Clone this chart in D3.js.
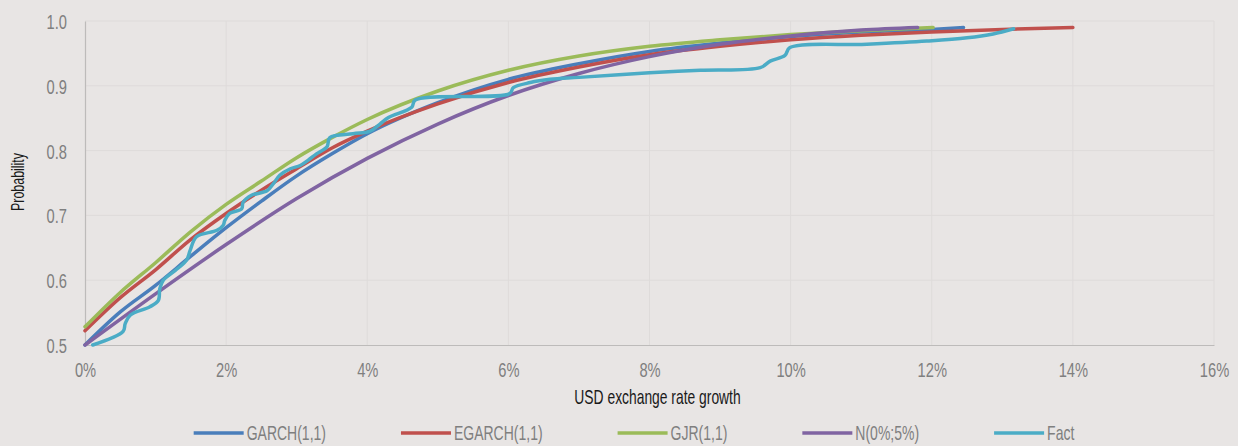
<!DOCTYPE html>
<html><head><meta charset="utf-8">
<script src="https://cdn.jsdelivr.net/npm/d3@7"></script>
<style>
html,body{margin:0;padding:0;background:#E8E5E4;}
svg{display:block;font-family:"Liberation Sans",Arial,sans-serif;}
</style></head><body>
<svg id="c" width="1238" height="446"></svg>
<script>
// ---- data (x = growth in %, y = probability) ----
const seriesNames = ["GARCH(1,1)", "EGARCH(1,1)", "GJR(1,1)", "N(0%;5%)", "Fact"];
const seriesColors = ["#4A7EBB", "#C0504D", "#9BBB59", "#8064A2", "#4BACC6"];
const xTicks = [0, 2, 4, 6, 8, 10, 12, 14, 16];
const yTicks = [0.5, 0.6, 0.7, 0.8, 0.9, 1.0];

const garch = [[0,0.500],[0.5,0.551],[1,0.592],[1.5,0.637],[2,0.681],[2.5,0.722],[3,0.761],[3.5,0.795],[4,0.826],[5,0.874],[6,0.910],[7,0.934],[8,0.953],[9,0.966],[10,0.976],[11,0.983],[12,0.987],[12.45,0.990]];
const egarch = [[0,0.522],[0.5,0.573],[1,0.616],[1.5,0.663],[2,0.703],[2.5,0.739],[3,0.772],[3.5,0.804],[4,0.830],[5,0.872],[6,0.905],[7,0.929],[8,0.948],[9,0.961],[10,0.971],[11,0.978],[12,0.983],[13,0.987],[14,0.990]];
const gjr = [[0,0.528],[0.5,0.581],[1,0.627],[1.5,0.675],[2,0.717],[2.5,0.753],[3,0.789],[3.5,0.820],[4,0.848],[5,0.892],[6,0.924],[7,0.946],[8,0.961],[9,0.971],[10,0.979],[11,0.985],[12.02,0.990]];
const normal = [[0,0.500],[1,0.579],[2,0.655],[3,0.726],[4,0.788],[5,0.841],[6,0.885],[7,0.919],[8,0.945],[9,0.964],[10,0.977],[11,0.986],[11.8,0.990]];
const fact = [[0.11,0.500],[0.54,0.521],[0.57,0.533],[0.64,0.546],[0.92,0.559],[1.04,0.569],[1.06,0.587],[1.11,0.600],[1.28,0.615],[1.44,0.631],[1.49,0.646],[1.58,0.667],[1.87,0.677],[1.96,0.685],[1.98,0.692],[2.05,0.703],[2.22,0.710],[2.24,0.720],[2.36,0.731],[2.58,0.738],[2.67,0.749],[2.76,0.762],[2.91,0.772],[3.05,0.777],[3.16,0.785],[3.28,0.795],[3.43,0.806],[3.47,0.820],[3.80,0.826],[4.04,0.830],[4.18,0.841],[4.30,0.851],[4.63,0.867],[4.68,0.878],[6.02,0.888],[6.07,0.897],[6.31,0.905],[6.59,0.910],[7.0,0.913],[8.0,0.920],[8.72,0.924],[9.57,0.928],[9.71,0.938],[9.92,0.947],[9.99,0.959],[11.08,0.964],[11.93,0.969],[12.50,0.974],[12.87,0.980],[13.16,0.988]];
const allSeries = [garch, egarch, gjr, normal, fact];

// ---- layout ----
const svg = d3.select("#c");
const L = 85, R = 1214, T = 21, B = 345;
const x = d3.scaleLinear().domain([0,16]).range([L,R]);
const y = d3.scaleLinear().domain([0.5,1.0]).range([B,T]);

// condensed-text helper (reference uses a very narrow typeface): horizontal scale about the text's x anchor
function condense(sel, f){
  sel.each(function(){
    const xx = +this.getAttribute("x") || 0;
    const prev = this.getAttribute("transform") || "";
    this.setAttribute("transform", `${prev} translate(${xx},0) scale(${f},1) translate(${-xx},0)`);
    this.__w = this.getComputedTextLength() * f;
  });
}

// gridlines
svg.append("g").selectAll("line").data(yTicks.slice(1)).join("line")
  .attr("x1",L).attr("x2",R).attr("y1",d=>y(d)).attr("y2",d=>y(d))
  .attr("stroke","#DEDBDA").attr("stroke-width",1);
svg.append("g").selectAll("line").data(xTicks.slice(1)).join("line")
  .attr("y1",T).attr("y2",B).attr("x1",d=>x(d)).attr("x2",d=>x(d))
  .attr("stroke","#DEDBDA").attr("stroke-width",1);

// axes
const xAxis = svg.append("g").attr("transform",`translate(0,${B})`)
  .call(d3.axisBottom(x).tickValues(xTicks).tickFormat(d=>d+"%").tickSize(0).tickPadding(17.5));
const yAxis = svg.append("g").attr("transform",`translate(${L},0)`)
  .call(d3.axisLeft(y).tickValues(yTicks).tickFormat(d3.format(".1f")).tickSize(0).tickPadding(18));
[xAxis,yAxis].forEach(a=>{
  a.select(".domain").attr("stroke","#BDBBBA").attr("stroke-width",1.2);
  a.selectAll("text").attr("fill","#7F7F7F").style("font-size","21px")
   .style("font-family",'"Liberation Sans",Arial,sans-serif');
  condense(a.selectAll("text"), 0.7);
});
yAxis.selectAll("text").attr("dy","0.36em");

// axis titles
const xt = svg.append("text").attr("x",(L+R)/2+8).attr("y",404).attr("text-anchor","middle")
  .attr("fill","#1a1a1a").style("font-size","21px").text("USD exchange rate growth");
condense(xt, 0.66);
const yt = svg.append("text").attr("transform","translate(24,182) rotate(-90)").attr("text-anchor","middle")
  .attr("fill","#1a1a1a").style("font-size","18px").text("Probability");
condense(yt, 0.69);

// lines
const line = d3.line().x(d=>x(d[0])).y(d=>y(d[1])).curve(d3.curveMonotoneX);
const factLine = d3.line().x(d=>x(d[0])).y(d=>y(d[1])).curve(d3.curveCatmullRom.alpha(0.5));
svg.append("g").selectAll("path").data(allSeries).join("path")
  .attr("d",(d,i)=> i===4 ? factLine(d) : line(d))
  .attr("fill","none").attr("stroke",(d,i)=>seriesColors[i])
  .attr("stroke-width",3.5).attr("stroke-linejoin","round").attr("stroke-linecap","round");

// legend
const lg = svg.append("g");
const items = lg.selectAll("g").data(seriesNames).join("g");
items.append("line").attr("x1",0).attr("x2",50).attr("y1",0).attr("y2",0)
  .attr("stroke",(d,i)=>seriesColors[i]).attr("stroke-width",3.5);
const lt = items.append("text").attr("x",53).attr("y",0).attr("dy","0.36em")
  .attr("fill","#7F7F7F").style("font-size","20px").text(d=>d);
condense(lt, 0.7);
let cx = 0; const gap = 75;
items.each(function(){
  const w = 53 + d3.select(this).select("text").node().__w;
  d3.select(this).attr("transform",`translate(${cx},433)`);
  cx += w + gap;
});
const total = cx - gap;
lg.attr("transform",`translate(${634 - total/2},0)`);
</script>
</body></html>
